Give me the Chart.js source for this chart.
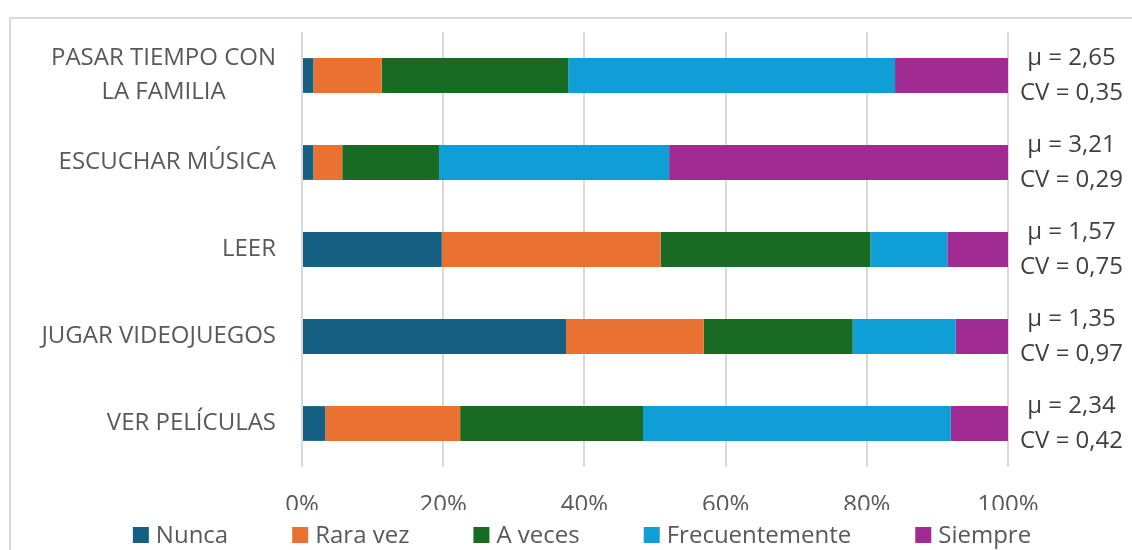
<!DOCTYPE html>
<html>
<head>
<meta charset="utf-8">
<script src="https://cdn.jsdelivr.net/npm/chart.js@4/dist/chart.umd.min.js"></script>
<style>
  html, body { margin: 0; padding: 0; background: #fff; }
  #wrap { position: relative; width: 1132px; height: 550px; overflow: hidden; }
  #frame { position: absolute; left: 9px; top: 17px; width: 1200px; height: 600px; border: 2px solid #d9d9d9; box-sizing: border-box; }
  #chart { position: absolute; left: 0; top: 0; }
</style>
</head>
<body>
<div id="wrap">
  <div id="frame"></div>
  <canvas id="chart" width="1132" height="550"></canvas>
</div>
<script>
// actividades y porcentaje de respuestas por frecuencia
const actividades = [['PASAR TIEMPO CON', 'LA FAMILIA'], 'ESCUCHAR MÚSICA', 'LEER', 'JUGAR VIDEOJUEGOS', 'VER PELÍCULAS'];
const nunca          = [1.6, 1.6, 19.8, 37.4, 3.3];
const raraVez        = [9.7, 4.1, 31.0, 19.5, 19.1];
const aVeces         = [26.4, 13.7, 29.7, 21.1, 25.9];
const frecuentemente = [46.3, 32.6, 10.9, 14.6, 43.6];
const siempre        = [16.0, 48.0, 8.6, 7.4, 8.1];

// media y coeficiente de variacion de cada actividad
const medias = [2.65, 3.21, 1.57, 1.35, 2.34];
const coefVariacion = [0.35, 0.29, 0.75, 0.97, 0.42];

const fuente = 'Open Sans';
const tamano = 24;
const gris = '#595959';

const coma = (n) => n.toFixed(2).replace('.', ',');
const etiquetasDerecha = medias.map((m, i) => ['μ = ' + coma(m), 'CV = ' + coma(coefVariacion[i])]);

// etiquetas de la izquierda: bloque alineado a la derecha, lineas centradas
const etiquetasIzquierda = {
  id: 'etiquetasIzquierda',
  afterDraw(chart) {
    const scale = chart.scales.y;
    const ctx = chart.ctx;
    const derecha = 276;
    const alto = 34;
    ctx.save();
    ctx.font = tamano + 'px "' + fuente + '"';
    ctx.fillStyle = gris;
    ctx.textAlign = 'center';
    ctx.textBaseline = 'middle';
    chart.data.labels.forEach((lab, i) => {
      const lineas = [].concat(lab);
      const ancho = Math.max(...lineas.map(l => ctx.measureText(l).width));
      const cx = derecha - ancho / 2;
      const y0 = scale.getPixelForTick(i) - (lineas.length - 1) * alto / 2;
      lineas.forEach((l, j) => ctx.fillText(l, cx, y0 + j * alto));
    });
    ctx.restore();
  }
};

// leyenda abajo
const leyenda = {
  id: 'leyenda',
  afterDraw(chart) {
    const ctx = chart.ctx;
    const caja = 16, hueco = 7, separacion = 64, centroX = 582, y = 535;
    ctx.save();
    ctx.font = tamano + 'px "' + fuente + '"';
    ctx.textAlign = 'left';
    ctx.textBaseline = 'middle';
    const anchos = chart.data.datasets.map(d => caja + hueco + ctx.measureText(d.label).width);
    const total = anchos.reduce((a, b) => a + b, 0) + separacion * (anchos.length - 1);
    let x = centroX - total / 2;
    chart.data.datasets.forEach((d, i) => {
      ctx.fillStyle = d.backgroundColor;
      ctx.fillRect(x, y - caja / 2, caja, caja);
      ctx.fillStyle = gris;
      ctx.fillText(d.label, x + caja + hueco, y + 1);
      x += anchos[i] + separacion;
    });
    ctx.restore();
  }
};

const serie = (label, data, color) => ({
  label: label,
  data: data,
  backgroundColor: color,
  categoryPercentage: 1,
  barPercentage: 0.4
});

// sin relleno extra de las etiquetas en los bordes del area del grafico
const sinRelleno = (s) => {
  s.paddingTop = 0;
  s.paddingBottom = 0;
  s.paddingLeft = 0;
  s.paddingRight = 0;
};

Chart.defaults.font.family = fuente;
Chart.defaults.font.size = tamano;

new Chart(document.getElementById('chart'), {
  type: 'bar',
  data: {
    labels: actividades,
    datasets: [
      serie('Nunca', nunca, '#156082'),
      serie('Rara vez', raraVez, '#E97132'),
      serie('A veces', aVeces, '#196B24'),
      serie('Frecuentemente', frecuentemente, '#0F9ED5'),
      serie('Siempre', siempre, '#A02B93')
    ]
  },
  options: {
    indexAxis: 'y',
    responsive: false,
    animation: false,
    layout: { padding: { top: 32, bottom: 40, left: 0, right: 0 } },
    plugins: {
      legend: { display: false },
      tooltip: { enabled: false }
    },
    scales: {
      x: {
        stacked: true,
        min: 0,
        max: 100,
        ticks: { stepSize: 20, callback: v => v + '%', padding: 24, color: gris },
        grid: { color: '#d9d9d9', lineWidth: 2, drawTicks: false },
        border: { display: false },
        afterFit: s => { s.height = 43; sinRelleno(s); }
      },
      y: {
        stacked: true,
        grid: { display: false, drawTicks: false },
        border: { display: false },
        ticks: { display: false },
        afterFit: s => { s.width = 302; sinRelleno(s); }
      },
      y2: {
        type: 'category',
        labels: etiquetasDerecha,
        position: 'right',
        offset: true,
        grid: { display: false, drawTicks: false },
        border: { display: false },
        ticks: { crossAlign: 'center', padding: 12, color: '#404040', font: { lineHeight: 1.45 } },
        afterFit: s => { s.width = 124; sinRelleno(s); }
      }
    }
  },
  plugins: [etiquetasIzquierda, leyenda]
});
</script>
</body>
</html>
